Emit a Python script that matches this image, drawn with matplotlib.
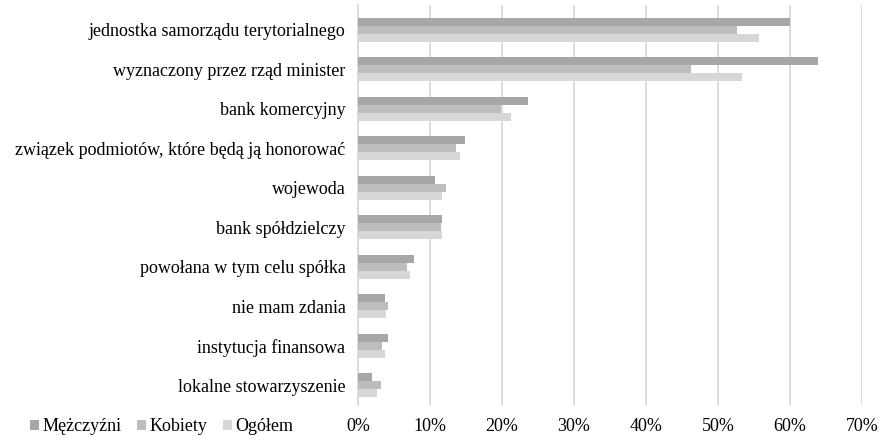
import matplotlib.pyplot as plt
import numpy as np

plt.rcParams['font.family'] = ['Liberation Serif', 'DejaVu Serif']

categories = ["jednostka samorządu terytorialnego", "wyznaczony przez rząd minister",
              "bank komercyjny", "związek podmiotów, które będą ją honorować",
              "wojewoda", "bank spółdzielczy", "powołana w tym celu spółka",
              "nie mam zdania", "instytucja finansowa", "lokalne stowarzyszenie"]
mezczyzni = [60.0, 63.9, 23.6, 14.8, 10.7, 11.6, 7.8, 3.8, 4.1, 1.9]
kobiety = [52.7, 46.3, 19.9, 13.6, 12.2, 11.5, 6.8, 4.1, 3.4, 3.2]
ogolem = [55.7, 53.3, 21.3, 14.2, 11.6, 11.6, 7.2, 3.9, 3.7, 2.6]
ticks = [0, 10, 20, 30, 40, 50, 60, 70]

fig = plt.figure(figsize=(8.8, 4.36), dpi=100)
ax = fig.add_axes([0.4068, 0.071, 0.5727, 0.917])

y = np.arange(len(categories))
h = 0.2
ax.barh(y - h, mezczyzni, height=h, color='#a7a7aa', label='Mężczyźni', zorder=3)
ax.barh(y, kobiety, height=h, color='#bdbdc0', label='Kobiety', zorder=3)
ax.barh(y + h, ogolem, height=h, color='#d7d7d9', label='Ogółem', zorder=3)

ax.set_xlim(0, 70)
ax.set_ylim(len(categories) - 0.5, -0.62)
ax.set_xticks(ticks)
ax.set_xticklabels([f"{t}%" for t in ticks], fontsize=13)
ax.set_yticks(y)
ax.set_yticklabels(categories, fontsize=13)
ax.tick_params(length=0, pad=9)
ax.tick_params(axis='x', pad=9)
ax.grid(axis='x', color='#d9d9d9', linewidth=1.3, zorder=0)
for s in ['top', 'right', 'bottom']:
    ax.spines[s].set_visible(False)
ax.spines['left'].set_color('#d9d9d9')
ax.spines['left'].set_linewidth(1.3)

fig.legend(loc='lower left', bbox_to_anchor=(0.016, -0.036), ncol=3, frameon=False,
           fontsize=13, handlelength=0.5, handleheight=0.5, handletextpad=0.15,
           columnspacing=0.9)

plt.savefig('out.png')
